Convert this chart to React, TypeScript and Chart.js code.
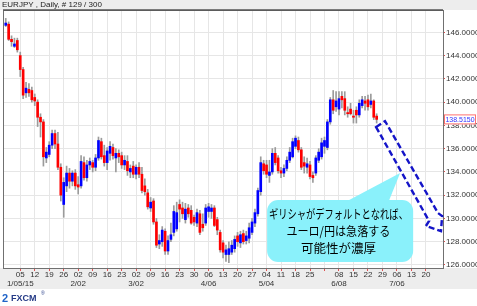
import React, { useEffect, useRef } from "react";
import { Chart, registerables } from "chart.js";
Chart.register(...registerables);

const TITLE = "EURJPY , Daily, # 129 / 300";
// trading-day offset of the first candle relative to Mon 1/05/15
const FIRST_DAY_OFFSET = -5;

const opens = [
  146.6, 146.7, 145.4, 144.8, 145.3,
  144.0, 142.8, 140.8, 141.1, 141.0,
  140.4, 140.0, 138.7, 138.3, 135.2,
  135.5, 136.3, 137.3, 136.4, 134.4,
  131.2, 132.8, 133.9, 133.2, 133.9,
  132.9, 132.8, 134.8, 133.5, 134.6,
  134.8, 134.4, 135.2, 136.6, 135.4,
  134.8, 135.6, 136.1, 135.2, 135.6,
  135.4, 134.6, 134.9, 134.0, 134.5,
  133.8, 134.4, 133.8, 132.8, 132.2,
  130.9, 131.5, 129.7, 127.8, 128.0,
  128.9, 127.2, 128.2, 128.8, 129.1,
  131.2, 130.9, 129.9, 130.9, 130.7,
  130.1, 129.6, 130.4, 129.5, 129.6,
  130.6, 130.6, 130.9, 129.9, 128.8,
  127.9, 126.9, 126.9, 127.1, 127.4,
  128.5, 127.9, 128.7, 128.1, 128.3,
  128.8, 129.6, 130.4, 132.3, 134.7,
  134.6, 133.7, 134.0, 135.6, 135.2,
  134.1, 133.9, 134.3, 135.0, 135.3,
  136.2, 136.7, 135.9, 134.8, 134.4,
  134.6, 133.7, 133.9, 135.0, 135.3,
  136.2, 136.1, 138.3, 140.2, 139.6,
  139.4, 140.5, 140.3, 139.1, 139.4,
  138.8, 139.3, 138.9, 139.7, 140.1,
  140.2, 139.8, 140.1, 138.8,
];
const highs = [
  147.2, 146.9, 145.7, 145.5, 145.5,
  144.3, 143.0, 141.7, 141.6, 141.3,
  140.7, 140.2, 139.0, 138.5, 136.1,
  136.6, 137.6, 137.6, 137.4, 134.7,
  133.5, 134.5, 134.3, 134.1, 134.2,
  133.6, 135.4, 135.3, 135.0, 135.2,
  135.0, 135.5, 137.0, 136.9, 136.3,
  136.1, 136.6, 136.4, 136.0, 135.9,
  135.7, 135.4, 135.4, 134.6, 134.9,
  134.6, 134.8, 134.4, 133.4, 132.5,
  131.8, 131.7, 130.0, 128.6, 129.3,
  129.1, 128.5, 129.6, 131.1, 131.4,
  131.6, 131.4, 131.3, 131.2, 131.1,
  130.3, 130.8, 130.7, 130.4, 131.2,
  131.3, 131.2, 131.1, 130.1, 129.0,
  128.1, 127.7, 128.0, 128.1, 128.5,
  128.8, 128.9, 129.0, 128.9, 129.6,
  130.0, 130.8, 132.6, 135.3, 135.0,
  135.0, 135.0, 136.0, 136.1, 135.4,
  134.4, 134.6, 135.3, 136.1, 136.9,
  137.1, 137.0, 136.1, 135.3, 135.2,
  134.9, 134.0, 135.4, 136.0, 136.9,
  137.0, 138.5, 140.4, 141.0, 140.9,
  140.9, 140.9, 140.9, 139.6, 139.9,
  139.3, 139.6, 140.2, 140.5, 140.5,
  140.6, 140.7, 140.2, 139.0,
];
const lows = [
  146.5, 145.3, 144.8, 144.7, 144.3,
  142.2, 140.3, 140.4, 140.5, 140.0,
  139.7, 137.9, 137.0, 134.5, 134.8,
  135.3, 136.0, 136.0, 134.2, 131.5,
  130.1, 132.3, 132.6, 132.8, 132.5,
  132.1, 132.6, 133.3, 133.2, 134.2,
  134.0, 134.1, 135.0, 135.1, 134.5,
  134.2, 135.0, 135.1, 134.0, 134.8,
  134.3, 134.2, 133.7, 133.5, 133.5,
  133.4, 133.5, 132.2, 132.0, 130.8,
  130.6, 129.5, 127.5, 127.4, 127.6,
  126.9, 126.9, 128.0, 128.5, 128.9,
  129.7, 130.0, 129.6, 130.1, 129.5,
  129.4, 129.3, 128.6, 128.9, 129.4,
  130.1, 130.0, 129.3, 128.6, 127.1,
  126.6, 126.3, 126.2, 126.9, 127.1,
  127.6, 127.5, 127.8, 127.8, 127.9,
  128.6, 129.3, 130.2, 132.0, 133.8,
  133.5, 133.1, 133.8, 134.6, 133.9,
  133.5, 133.6, 134.1, 134.8, 135.2,
  136.0, 135.7, 134.2, 133.9, 133.9,
  133.4, 133.1, 133.7, 134.8, 135.1,
  135.6, 135.9, 138.1, 139.0, 139.2,
  138.9, 139.5, 138.9, 138.7, 138.9,
  138.2, 138.2, 138.7, 139.5, 139.3,
  139.3, 139.5, 138.5, 138.2,
];
const closes = [
  146.8, 145.4, 145.2, 145.0, 144.5,
  142.8, 140.6, 141.2, 140.8, 140.2,
  140.1, 138.7, 138.3, 135.3, 135.7,
  136.3, 137.3, 136.4, 134.4, 132.0,
  133.1, 133.9, 133.2, 133.9, 132.8,
  132.7, 134.9, 133.5, 134.6, 134.9,
  134.4, 135.2, 136.7, 135.3, 134.8,
  135.8, 136.2, 135.4, 135.6, 135.3,
  134.6, 135.0, 134.1, 134.3, 133.8,
  134.4, 133.8, 132.4, 132.3, 131.0,
  131.4, 129.7, 127.7, 128.1, 129.0,
  127.2, 128.1, 128.6, 130.6, 130.5,
  130.8, 130.4, 130.8, 130.4, 129.6,
  129.7, 130.5, 128.8, 129.2, 130.9,
  131.0, 130.9, 129.4, 129.0, 127.3,
  127.1, 127.3, 127.4, 127.7, 128.2,
  128.0, 128.6, 128.0, 128.5, 129.2,
  129.7, 130.5, 132.4, 134.8, 134.1,
  133.8, 134.0, 135.6, 134.8, 134.1,
  133.9, 134.3, 135.0, 135.7, 136.6,
  136.9, 135.9, 134.4, 134.5, 134.7,
  133.6, 133.5, 135.2, 135.7, 136.5,
  136.7, 138.3, 140.2, 139.3, 140.1,
  140.3, 140.2, 139.3, 139.0, 139.0,
  138.7, 138.9, 139.9, 140.2, 139.9,
  139.6, 140.1, 138.7, 138.515,
];

// Monday tick labels (one per week, 5 trading days apart, starting at 1/05/15)
const weekLabels = [
  "05", "12", "19", "26",
  "02", "09", "16", "23",
  "02", "09", "16", "23", "30",
  "06", "13", "20", "27",
  "04", "11", "18", "25",
  "", "08", "15", "22", "29",
  "06", "13", "20",
];
const monthLabels: Record<number, string> = {
  0: "1/05/15", 4: "2/02", 8: "3/02", 13: "4/06", 17: "5/04", 22: "6/08", 26: "7/06",
};
const priceTicks = [126, 128, 130, 132, 134, 136, 138, 140, 142, 144, 146];
const lastPrice = 138.515;

const calloutLines = ["ギリシャがデフォルトとなれば、", "ユーロ/円は急落する", "可能性が濃厚"];

// annotation anchors in (trading day, price) units
const arrowPath: [number, number][] = [
  [122.8, 137.86], [125.9, 138.37], [144.2, 130.46], [145.6, 130.2],
  [145.2, 128.91], [140.0, 129.35], [141.1, 129.78],
];
const calloutBox = { left: 85.2, right: 135.6, top: 131.58, bottom: 126.25 };
const calloutTail: [number, number][] = [[111.4, 131.3], [131.1, 133.9], [126.9, 131.3]];
const calloutTextX = 109.8;
const calloutTextY = [130.43, 128.96, 127.52];
const calloutTextWidths = [139, 104, 76];

const FONT = '"Liberation Sans", Arial, sans-serif';

export default function App() {
  const ref = useRef<HTMLCanvasElement | null>(null);

  useEffect(() => {
    document.body.style.margin = "0";
    const canvas = ref.current;
    if (!canvas) return;

    const xs = opens.map((_, i) => i + FIRST_DAY_OFFSET);
    const bodyColors = opens.map((o, i) => (closes[i] >= o ? "#0000ff" : "#ff0000"));

    const decor = {
      id: "decor",
      beforeDraw(chart: any) {
        const { ctx, width, height, chartArea } = chart;
        ctx.save();
        ctx.fillStyle = "#ffffff";
        ctx.fillRect(0, 0, width, height);
        ctx.fillStyle = "#ededed";
        ctx.fillRect(0, 0, width, chartArea.top);
        ctx.fillRect(0, chartArea.bottom, width, 21);
        ctx.fillStyle = "#222";
        ctx.font = `8px ${FONT}`;
        ctx.textBaseline = "middle";
        ctx.fillText(TITLE, 2, 5);
        ctx.restore();
      },
      afterDraw(chart: any) {
        const { ctx, chartArea, width } = chart;
        const xS = chart.scales.x;
        const yS = chart.scales.y;
        const px = (v: number) => xS.getPixelForValue(v);
        const py = (v: number) => yS.getPixelForValue(v);
        ctx.save();
        // frame
        ctx.strokeStyle = "#707070";
        ctx.lineWidth = 1;
        ctx.beginPath();
        ctx.moveTo(chartArea.left + 0.5, chartArea.bottom);
        ctx.lineTo(chartArea.left + 0.5, chartArea.top + 0.5);
        ctx.lineTo(chartArea.right, chartArea.top + 0.5);
        ctx.stroke();
        ctx.strokeStyle = "#555";
        ctx.lineWidth = 1.5;
        ctx.beginPath();
        ctx.moveTo(chartArea.left, chartArea.top);
        ctx.lineTo(chartArea.right, chartArea.top);
        ctx.stroke();

        // callout
        const bl = px(calloutBox.left), br = px(calloutBox.right);
        const bt = py(calloutBox.top), bb = py(calloutBox.bottom);
        ctx.fillStyle = "#8af1fb";
        ctx.beginPath();
        (ctx as any).roundRect(bl, bt, br - bl, bb - bt, 11);
        ctx.fill();
        ctx.beginPath();
        ctx.moveTo(px(calloutTail[0][0]), py(calloutTail[0][1]));
        ctx.lineTo(px(calloutTail[1][0]), py(calloutTail[1][1]));
        ctx.lineTo(px(calloutTail[2][0]), py(calloutTail[2][1]));
        ctx.closePath();
        ctx.fill();
        ctx.fillStyle = "#000";
        ctx.font = `12.5px "Noto Sans CJK JP", sans-serif`;
        ctx.textAlign = "center";
        ctx.textBaseline = "middle";
        calloutLines.forEach((t, i) => {
          ctx.fillText(t, px(calloutTextX), py(calloutTextY[i]) + 1, calloutTextWidths[i]);
        });

        // dashed arrow
        ctx.strokeStyle = "#1414c8";
        ctx.lineWidth = 2.4;
        ctx.setLineDash([6, 3]);
        ctx.lineJoin = "miter";
        ctx.beginPath();
        arrowPath.forEach(([d, p], i) => {
          if (i === 0) ctx.moveTo(px(d), py(p));
          else ctx.lineTo(px(d), py(p));
        });
        ctx.closePath();
        ctx.stroke();
        ctx.setLineDash([]);

        // last price label
        const ly = py(lastPrice);
        const lx = chartArea.right + 1;
        const bw = width - lx - 1;
        ctx.fillStyle = "#fff";
        ctx.fillRect(lx, ly - 5, bw, 10);
        ctx.strokeStyle = "#ff7070";
        ctx.lineWidth = 1;
        ctx.strokeRect(lx + 0.5, ly - 4.5, bw - 1, 9);
        ctx.fillStyle = "#3030ff";
        ctx.font = `7.5px ${FONT}`;
        ctx.textAlign = "center";
        ctx.textBaseline = "middle";
        ctx.fillText(lastPrice.toFixed(4), lx + bw / 2, ly + 0.5, bw - 3);

        // logo
        ctx.textAlign = "left";
        ctx.textBaseline = "alphabetic";
        ctx.fillStyle = "#1e63c8";
        ctx.font = `bold 11px ${FONT}`;
        ctx.fillText("2", 2, 302);
        ctx.fillStyle = "#243a86";
        ctx.font = `bold 9px ${FONT}`;
        ctx.fillText("FXCM", 11, 301);
        ctx.font = `5px ${FONT}`;
        ctx.fillText("®", 41, 295);
        ctx.restore();
      },
    };

    const chart = new Chart(canvas, {
      type: "bar",
      data: {
        datasets: [
          {
            data: xs.map((x, i) => ({ x, y: [lows[i], highs[i]] })) as any,
            backgroundColor: "#9b9b9b",
            barThickness: 1,
            grouped: false,
            order: 2,
          },
          {
            data: xs.map((x, i) => ({ x, y: [opens[i], closes[i]] })) as any,
            backgroundColor: bodyColors,
            barThickness: 2,
            minBarLength: 1,
            grouped: false,
            order: 1,
          },
        ],
      },
      plugins: [decor],
      options: {
        animation: false,
        responsive: false,
        devicePixelRatio: 1,
        layout: { padding: { top: 10, bottom: 17, left: 3, right: 0 } },
        plugins: { legend: { display: false }, tooltip: { enabled: false }, title: { display: false } },
        scales: {
          x: {
            type: "linear",
            min: -5.95,
            max: 145.9,
            offset: false,
            grid: { offset: false, color: "#e6e6e6", lineWidth: 1, tickLength: 3, tickColor: "#e05050", drawTicks: true },
            border: { color: "#707070", width: 1 },
            afterBuildTicks: (scale: any) => {
              scale.ticks = weekLabels.map((_, w) => ({ value: w * 5 }));
            },
            afterFit: (scale: any) => {
              scale.height = 21;
            },
            ticks: {
              autoSkip: false,
              maxRotation: 0,
              padding: 0,
              color: "#333",
              font: { family: FONT, size: 8, lineHeight: 1.05 },
              callback: (_v: any, i: number) => [weekLabels[i], monthLabels[i] ?? ""],
            },
          },
          y: {
            position: "right",
            min: 125.74,
            max: 147.92,
            grid: { color: "#e6e6e6", lineWidth: 1, tickLength: 2, tickColor: "#e05050" },
            border: { color: "#707070", width: 1 },
            afterBuildTicks: (scale: any) => {
              scale.ticks = priceTicks.map((v) => ({ value: v }));
            },
            afterFit: (scale: any) => {
              scale.width = 34;
            },
            ticks: {
              padding: 1,
              color: "#333",
              font: { family: FONT, size: 8 },
              callback: (v: any) => Number(v).toFixed(4),
            },
          },
        },
      } as any,
    });
    return () => chart.destroy();
  }, []);

  return (
    <div style={{ width: 477, height: 306 }}>
      <canvas ref={ref} width={477} height={306} style={{ width: 477, height: 306, display: "block" }} />
    </div>
  );
}
